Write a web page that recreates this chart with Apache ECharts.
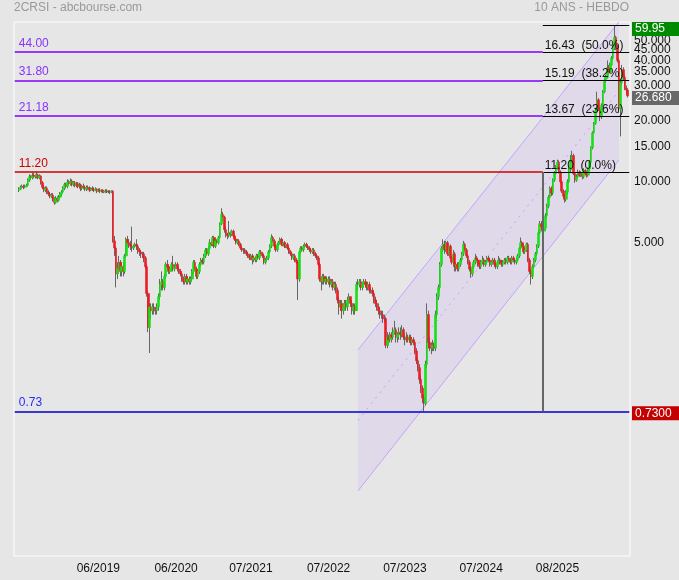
<!DOCTYPE html>
<html><head><meta charset="utf-8">
<script src="https://cdn.jsdelivr.net/npm/echarts@6/dist/echarts.min.js"></script>
<style>html,body{margin:0;padding:0;background:#e6e6e6;}#c{width:679px;height:580px;}</style>
</head><body><div id="c"></div>
<script>
// ---- data (weekly candles) ----
const firstOpen = 9.1;
const closes = [
9.2,9.4,9.5,9.4,9.5,9.6,10.2,10.6,10.5,10.8,
10.7,10.6,10.8,10.5,10.7,9.9,9.4,9.1,9.3,8.9,
8.7,8.5,8.6,8.2,7.9,8.3,8.1,8.4,8.7,8.9,
9.3,9.7,9.5,10.0,9.8,10.1,9.7,9.9,9.6,9.8,
9.5,9.6,9.3,9.5,9.4,9.2,9.4,9.3,9.1,9.3,
9.2,9.1,9.2,9.0,9.1,9.0,9.1,8.9,9.0,9.0,
9.0,8.9,8.9,9.0,5.1,4.7,3.5,3.7,4.0,3.6,
3.8,3.6,4.3,5.2,5.0,4.9,4.8,4.7,4.8,4.9,
4.8,4.6,4.5,4.4,4.4,4.2,3.8,2.8,1.9,2.4,
2.3,2.4,2.3,2.3,2.4,2.7,3.1,3.2,3.0,3.4,
3.9,3.8,3.6,3.7,3.9,3.7,3.8,3.9,3.7,3.6,
3.5,3.3,3.2,3.4,3.2,3.3,3.2,3.3,3.6,4.0,
3.7,3.4,3.6,3.9,4.1,4.0,4.3,4.6,4.4,4.7,
5.0,4.9,5.3,4.8,5.1,5.0,5.3,6.2,6.9,6.7,
5.8,5.5,5.4,5.6,5.5,5.7,5.4,5.2,5.0,5.1,
4.9,4.7,4.6,4.6,4.5,4.4,4.3,4.2,4.3,4.1,
4.2,4.1,4.3,4.2,4.5,4.4,4.3,4.0,4.1,4.2,
4.5,4.8,5.3,5.1,4.8,4.6,4.9,5.0,5.2,4.9,
5.0,4.8,4.9,4.7,4.5,4.4,4.2,4.3,4.1,4.0,
3.3,4.5,4.7,4.6,4.8,4.9,4.8,4.7,4.6,4.5,
4.6,4.4,4.3,4.2,3.9,3.3,3.2,3.4,3.2,3.3,
3.2,3.3,3.1,3.2,3.0,3.1,2.9,2.6,2.4,2.5,
2.3,2.4,2.5,2.4,2.6,2.7,2.5,2.3,2.4,2.3,
3.1,3.1,3.2,3.0,3.1,3.2,3.1,3.0,3.1,2.9,
2.9,2.8,2.6,2.5,2.4,2.3,2.2,2.2,2.1,2.1,
1.55,1.7,1.65,1.75,1.7,1.8,1.85,1.7,1.75,1.8,
1.75,1.85,1.7,1.65,1.7,1.65,1.7,1.6,1.65,1.6,
1.45,1.3,1.2,1.05,0.95,0.85,0.8,1.25,2.2,1.6,
1.5,1.5,1.55,1.5,2.2,2.7,3.0,3.9,4.7,4.9,
4.6,5.0,4.4,4.8,4.2,4.0,4.4,3.8,3.9,3.7,
3.9,4.1,4.4,4.9,4.6,4.3,4.0,3.7,3.5,3.8,
4.0,4.2,4.1,3.9,3.8,4.0,4.1,3.9,4.0,4.2,
4.1,3.9,4.0,4.1,3.9,3.8,4.0,4.1,4.0,3.9,
4.0,4.1,4.0,4.2,4.1,4.0,4.2,4.1,4.0,4.1,
4.3,4.7,5.0,4.8,4.5,4.6,4.9,4.1,3.6,3.4,
3.8,4.1,4.4,4.8,5.6,6.2,6.0,5.7,5.9,6.8,
7.6,8.4,9.3,8.8,10.2,11.0,11.8,12.5,11.2,10.0,
9.0,8.5,8.2,8.9,10.0,11.5,12.8,13.5,11.0,10.2,
10.6,11.2,10.8,11.0,10.6,11.4,11.0,10.8,11.6,12.5,
14.8,17.5,19.5,22.5,25.5,23.0,21.0,24.0,28.0,32.0,
33,37,35,38,41,46,52,47,40,23,
31,36,33,29,28.5,26.68];
const highs = [
9.4,9.6,9.7,9.7,9.7,9.8,10.4,10.9,10.8,11.1,
11.1,10.9,11.2,11.0,10.9,10.8,10.1,9.6,9.5,9.5,
9.1,8.9,8.8,8.8,8.4,8.5,8.5,8.6,8.9,9.1,
9.5,9.9,9.9,10.3,10.2,10.4,10.3,10.1,10.1,10.0,
10.0,9.9,9.8,9.7,9.8,9.6,9.6,9.6,9.5,9.4,
9.5,9.4,9.4,9.3,9.3,9.3,9.2,9.2,9.1,9.2,
9.2,9.1,9.1,9.1,9.1,5.4,4.8,4.0,4.3,4.1,
4.0,4.0,4.4,5.3,5.4,5.2,5.1,6.0,4.9,5.0,
5.2,4.9,4.7,4.6,4.5,4.5,4.3,3.9,2.9,2.5,
2.5,2.5,2.5,2.4,2.5,2.8,3.3,3.6,3.3,3.5,
4.0,4.1,3.9,3.8,4.0,4.3,3.9,4.0,4.0,3.8,
3.7,3.6,3.4,3.5,3.5,3.4,3.4,3.4,3.7,4.1,
4.1,3.8,3.7,4.0,4.2,4.2,4.4,4.7,4.7,4.8,
5.2,5.1,5.4,5.4,5.2,5.2,5.4,6.3,7.4,7.1,
6.8,6.0,5.6,6.4,5.7,5.8,5.8,5.5,5.3,5.2,
5.2,5.0,4.8,4.7,4.7,4.6,4.5,4.4,4.4,4.4,
4.3,4.3,4.4,4.4,4.6,4.6,4.5,4.4,4.2,4.3,
4.6,4.9,5.5,5.4,5.2,4.9,5.0,5.1,5.3,5.3,
5.2,5.1,5.0,5.0,4.8,4.6,4.5,4.4,4.4,4.2,
4.1,4.6,4.8,4.8,4.9,5.0,5.0,4.9,4.8,4.7,
4.7,4.7,4.5,4.4,4.3,4.0,3.4,3.5,3.5,3.4,
3.4,3.4,3.4,3.3,3.3,3.2,3.2,3.0,2.7,2.6,
2.6,2.5,2.6,2.6,2.7,2.8,2.7,2.6,2.5,2.5,
3.2,3.3,3.3,3.3,3.2,3.3,3.3,3.2,3.2,3.2,
3.0,3.0,2.9,2.7,2.6,2.5,2.4,2.3,2.3,2.2,
2.15,1.8,1.75,1.8,1.8,1.9,2.05,1.9,1.8,1.9,
1.9,1.95,1.9,1.75,1.8,1.75,1.75,1.75,1.7,1.7,
1.65,1.5,1.35,1.25,1.1,0.98,0.88,1.3,2.5,2.3,
1.7,1.6,1.65,1.6,2.3,2.8,3.1,4.0,4.8,5.2,
5.1,5.1,5.1,4.9,4.9,4.3,4.6,4.5,4.0,4.0,
4.0,4.2,4.5,5.1,5.0,4.7,4.4,4.1,3.8,3.9,
4.1,4.4,4.3,4.2,4.0,4.1,4.3,4.2,4.1,4.3,
4.3,4.2,4.1,4.2,4.2,4.0,4.1,4.3,4.2,4.1,
4.1,4.2,4.2,4.3,4.3,4.2,4.3,4.3,4.2,4.2,
4.4,4.8,5.3,5.1,4.9,4.7,5.0,5.0,4.2,3.7,
3.9,4.2,4.5,4.9,5.8,6.4,6.4,6.1,6.0,7.0,
7.8,8.6,9.5,9.5,10.4,11.3,12.1,12.9,12.8,11.4,
10.2,9.2,8.7,9.1,10.3,11.8,13.6,14.2,13.8,11.2,
10.9,11.5,11.4,11.3,11.2,11.7,11.6,11.2,11.8,12.8,
15.0,17.8,19.8,23.0,28.0,26.0,23.5,24.5,28.5,32.5,
34,40,38,39,42,48,59.95,53,48,41,
32,38,37,34,30,29];
const lows = [
8.9,9.1,9.3,9.2,9.3,9.4,9.5,10.0,10.2,10.3,
10.4,10.4,10.4,10.3,10.3,9.7,9.2,8.9,8.9,8.7,
8.5,8.3,8.3,8.0,7.7,7.8,7.9,8.0,8.2,8.5,
8.8,9.1,9.3,9.3,9.6,9.6,9.5,9.5,9.4,9.4,
9.3,9.3,9.0,9.1,9.2,9.0,9.0,9.1,8.9,9.0,
9.0,8.9,9.0,8.8,8.9,8.8,8.9,8.8,8.8,8.8,
8.8,8.8,8.7,8.8,5.0,4.3,3.0,3.3,3.5,3.4,
3.4,3.4,3.5,4.2,4.8,4.7,4.6,4.5,4.6,4.7,
4.6,4.4,4.3,4.2,4.2,4.0,3.7,2.7,1.8,1.42,
2.1,2.2,2.2,2.2,2.2,2.3,2.6,2.9,2.9,2.9,
3.3,3.7,3.5,3.5,3.6,3.6,3.6,3.7,3.6,3.5,
3.4,3.2,3.1,3.1,3.1,3.1,3.1,3.1,3.2,3.5,
3.6,3.3,3.3,3.5,3.8,3.9,3.9,4.2,4.3,4.3,
4.6,4.8,4.8,4.7,4.7,4.9,4.9,5.2,6.1,6.4,
5.6,5.3,5.2,5.3,5.3,5.4,5.3,5.1,4.9,4.9,
4.8,4.6,4.5,4.4,4.4,4.3,4.2,4.1,4.1,3.9,
4.0,4.0,4.0,4.1,4.1,4.3,4.2,3.9,3.9,4.0,
4.1,4.4,4.7,5.0,4.7,4.5,4.5,4.8,4.9,4.8,
4.8,4.7,4.7,4.6,4.4,4.3,4.1,4.1,4.0,3.9,
2.6,3.2,4.4,4.5,4.5,4.7,4.7,4.6,4.5,4.4,
4.4,4.3,4.2,4.1,3.8,3.2,2.9,3.1,3.1,3.1,
3.1,3.1,3.0,3.0,2.9,2.9,2.8,2.5,2.2,2.3,
2.1,2.2,2.3,2.3,2.3,2.5,2.4,2.2,2.2,2.2,
2.3,2.9,3.0,2.9,2.9,3.0,3.0,2.9,2.9,2.8,
2.8,2.7,2.5,2.4,2.3,2.2,2.1,2.1,2.0,2.0,
1.5,1.5,1.55,1.6,1.6,1.65,1.75,1.6,1.6,1.65,
1.65,1.7,1.65,1.55,1.6,1.6,1.6,1.55,1.55,1.55,
1.4,1.25,1.15,1.0,0.9,0.8,0.73,0.78,1.2,1.5,
1.45,1.4,1.45,1.45,1.45,2.1,2.6,2.9,3.8,4.5,
4.4,4.5,4.3,4.3,4.1,3.9,3.9,3.6,3.6,3.6,
3.6,3.8,4.0,4.3,4.5,4.2,3.9,3.6,3.35,3.4,
3.7,3.9,4.0,3.8,3.7,3.7,3.9,3.8,3.8,3.9,
4.0,3.8,3.8,3.9,3.8,3.7,3.7,3.9,3.9,3.8,
3.8,3.9,3.9,3.9,4.0,3.9,3.9,4.0,3.9,3.9,
4.0,4.2,4.6,4.7,4.4,4.4,4.5,4.0,3.5,3.1,
3.3,3.7,4.0,4.3,4.7,5.5,5.8,5.5,5.6,5.8,
6.6,7.4,8.2,8.5,8.6,10.0,10.8,11.5,11.0,9.8,
8.8,8.3,7.9,8.0,8.7,9.8,11.2,12.4,10.8,9.9,
10.0,10.4,10.6,10.6,10.3,10.4,10.8,10.5,10.6,11.4,
12.3,14.5,17.2,19.2,22.0,22.5,20.0,20.5,23.5,27.5,
31,32.5,34,34.5,37.5,40,45,45,39,22,
16.8,30,32,28.5,27,26.2];

const xTickIdx = [57, 110, 161, 214, 266, 318, 370];
const xTickLabels = ['06/2019','06/2020','07/2021','07/2022','07/2023','07/2024','08/2025'];
// tick labels split over two label rows so that close labels are not dropped
const yTickValuesA = [5, 10, 15, 20, 30, 40, 50];
const yTickValuesB = [35, 45];
const priceTagValues = [59.95, 26.68, 0.73];
const priceTagLabels = ['59.95', '26.680', '0.7300'];

const levelValues = [44, 31.8, 21.18, 11.2];
const levelLabels = ['44.00', '31.80', '21.18', '11.20'];
const fibValues = [59.95, 44, 31.8, 21.18, 11.2];
const fibLabels = ['', '16.43  (50.0%)', '15.19  (38.2%)', '13.67  (23.6%)', '11.20  (0.0%)'];
const baseValue = 0.73;
const baseLabel = '0.73';
const fibStartCat = 360;

const channelCats = [234, 412];
const channelUpper = [1.47, 62.2];
const channelMid = [0.658, 28.3];
const channelLower = [0.294, 12.87];

// ---- build ----
const PAD_L = 3, PAD_R = 1;
const N = closes.length;
const TOTAL = PAD_L + N + PAD_R;
const cats = [];
for (let i = 0; i < TOTAL; i++) cats.push('c' + i);
const lastCat = TOTAL - 1;
const EMPTY = ['-', '-', '-', '-'];
const candles = [];   // full candles (wicks)
const bodies = [];    // body-only copy for the coloured part
for (let i = 0; i < PAD_L; i++) { candles.push(EMPTY); bodies.push(EMPTY); }
let prevClose = firstOpen;
for (let i = 0; i < N; i++) {
  const o = prevClose, c = closes[i];
  candles.push([o, c, lows[i], highs[i]]);
  bodies.push([o, c, Math.min(o, c), Math.max(o, c)]);
  prevClose = c;
}
for (let i = 0; i < PAD_R; i++) { candles.push(EMPTY); bodies.push(EMPTY); }

const FONT = 'Liberation Sans, Arial, sans-serif';
const PURPLE = '#7f00ff', PURPLE_T = '#8833ff', RED = '#cc0000', BLUE = '#0000cc', BLUE_T = '#2a2aff';
const UP = '#16e016', DOWN = '#ec1c24', WICK = '#666666';

const ml = [];
levelValues.forEach((v, i) => {
  const isRed = i === levelValues.length - 1;
  ml.push([
    { coord: ['c0', v], lineStyle: { color: isRed ? RED : PURPLE, width: 1.5, type: 'solid' },
      label: { show: true, formatter: levelLabels[i], position: 'insideStartTop', distance: [4, 2.5],
               color: isRed ? RED : PURPLE_T, fontSize: 12, fontFamily: FONT } },
    { coord: ['c' + fibStartCat, v] }
  ]);
});
fibValues.forEach((v, i) => {
  ml.push([
    { coord: ['c' + fibStartCat, v], lineStyle: { color: '#000', width: 1, type: 'solid' },
      label: { show: fibLabels[i] !== '', formatter: fibLabels[i], position: 'insideStartTop', distance: [2, 0.5],
               color: '#111', fontSize: 12, fontFamily: FONT } },
    { coord: ['c' + lastCat, v] }
  ]);
});
ml.push([
  { coord: ['c0', baseValue], lineStyle: { color: BLUE, width: 1.5, type: 'solid' },
    label: { show: true, formatter: baseLabel, position: 'insideStartTop', distance: [4, 2.5],
             color: BLUE_T, fontSize: 12, fontFamily: FONT } },
  { coord: ['c' + lastCat, baseValue] }
]);
ml.push([
  { coord: ['c' + fibStartCat, fibValues[fibValues.length - 1]], lineStyle: { color: '#666', width: 2, type: 'solid' }, label: { show: false } },
  { coord: ['c' + fibStartCat, baseValue] }
]);

const chLine = (vals) => [['c' + channelCats[0], vals[0]], ['c' + channelCats[1], vals[1]]];
const CH = '#c4a3ff';

const yMin = 0.14, yMax = 62;
const boxStyle = (bg, lh) => ({ backgroundColor: bg, color: '#fff', fontSize: 12, lineHeight: lh, padding: [1, 4, 1, 3], width: 42, fontFamily: FONT });
const plainAxis = (values) => ({
  type: 'log', logBase: 10, min: yMin, max: yMax, position: 'right',
  axisLine: { show: false }, axisTick: { show: false }, splitLine: { show: false },
  axisLabel: { customValues: values, formatter: (v) => Number(v).toFixed(3), hideOverlap: false,
               color: '#111', fontSize: 12, margin: 4, padding: [0, 0, 4, 0], fontFamily: FONT }
});

const option = {
  animation: false,
  backgroundColor: '#e6e6e6',
  textStyle: { fontFamily: FONT },
  title: [
    { text: '2CRSI - abcbourse.com', left: 14, top: 2, padding: 0,
      textStyle: { fontSize: 12, fontWeight: 'normal', color: '#999', fontFamily: FONT } },
    { text: '10 ANS - HEBDO', right: 50, top: 2, padding: 0,
      textStyle: { fontSize: 12, fontWeight: 'normal', color: '#999', fontFamily: FONT } }
  ],
  grid: { left: 14, right: 49, top: 22, bottom: 24, show: true, backgroundColor: '#e6e6e6',
          borderColor: '#ffffff', borderWidth: 1, containLabel: false, outerBoundsMode: 'none' },
  xAxis: {
    type: 'category', data: cats, boundaryGap: true,
    axisLine: { show: false }, axisTick: { show: false }, splitLine: { show: false },
    axisLabel: {
      interval: (idx) => xTickIdx.indexOf(idx) >= 0,
      formatter: (val, idx) => { const k = xTickIdx.indexOf(idx); return k >= 0 ? xTickLabels[k] : ''; },
      color: '#111', fontSize: 12, margin: 7, fontFamily: FONT
    }
  },
  yAxis: [
    plainAxis(yTickValuesA),
    plainAxis(yTickValuesB),
    { type: 'log', logBase: 10, min: yMin, max: yMax, position: 'right',
      axisLine: { show: false }, axisTick: { show: false }, splitLine: { show: false },
      axisLabel: {
        customValues: priceTagValues, margin: 2, fontFamily: FONT, hideOverlap: false,
        showMinLabel: true, showMaxLabel: true,
        formatter: (v) => {
          let best = 0;
          priceTagValues.forEach((t, i) => { if (Math.abs(Math.log(t) - Math.log(v)) < Math.abs(Math.log(priceTagValues[best]) - Math.log(v))) best = i; });
          const s = '{t' + best + '|' + priceTagLabels[best] + '}';
          if (best === 0) return '{sp0| }\n' + s;
          if (best === 1) return '{sp1| }\n' + s;
          return '{sp2| }\n' + s;
        },
        rich: {
          sp0: { lineHeight: 8, fontSize: 6 },
          sp1: { lineHeight: 4, fontSize: 4 },
          sp2: { lineHeight: 4, fontSize: 4 },
          t0: boxStyle('#008a00', 13),
          t1: boxStyle('#686868', 15),
          t2: boxStyle('#c40000', 13)
        }
      } }
  ],
  series: [
    { type: 'custom', z: 1, silent: true,
      data: [[channelCats[0], channelUpper[0], channelLower[0], channelCats[1], channelUpper[1], channelLower[1]]],
      renderItem: (params, api) => {
        const a = api.coord([api.value(0), api.value(1)]);
        const b = api.coord([api.value(3), api.value(4)]);
        const c = api.coord([api.value(3), api.value(5)]);
        const d = api.coord([api.value(0), api.value(2)]);
        return { type: 'polygon', shape: { points: [a, b, c, d] }, style: { fill: 'rgba(185,150,255,0.16)' } };
      } },
    { type: 'line', z: 1, silent: true, symbol: 'none', data: chLine(channelUpper), lineStyle: { color: CH, width: 1 } },
    { type: 'line', z: 1, silent: true, symbol: 'none', data: chLine(channelLower), lineStyle: { color: CH, width: 1 } },
    { type: 'line', z: 1, silent: true, symbol: 'none', data: chLine(channelMid), lineStyle: { color: CH, width: 1, type: [2, 5] },
      markLine: { silent: true, symbol: ['none', 'none'], animation: false, data: ml } },
    { type: 'candlestick', z: 3, silent: true, data: candles, barWidth: 1,
      itemStyle: { color: WICK, color0: WICK, borderColor: WICK, borderColor0: WICK, borderColorDoji: WICK, borderWidth: 1 } },
    { type: 'candlestick', z: 4, silent: true, data: bodies, barWidth: 2.2,
      itemStyle: { color: UP, color0: DOWN, borderColor: UP, borderColor0: DOWN, borderColorDoji: WICK, borderWidth: 0.6 } }
  ]
};
const chart = echarts.init(document.getElementById('c'), null, { renderer: 'canvas' });
chart.setOption(option);
</script></body></html>
